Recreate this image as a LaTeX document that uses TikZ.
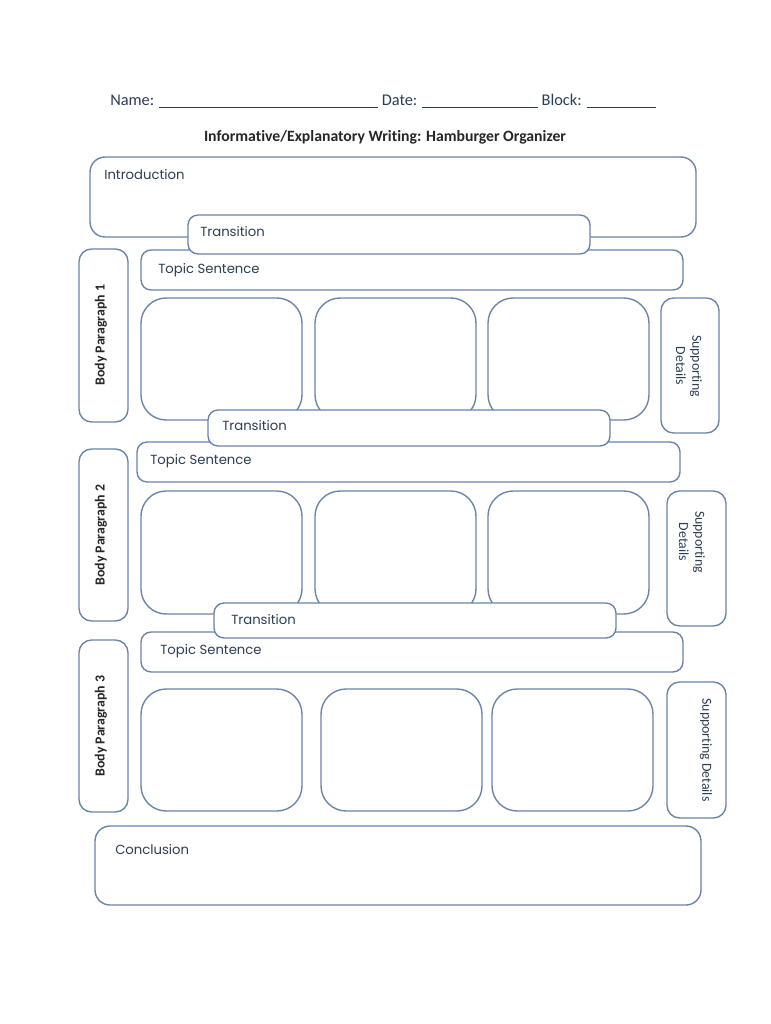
\documentclass[tikz,border=0pt]{standalone}
\usepackage{fontspec}
\setmainfont{Carlito}[Ligatures=NoCommon]
\newfontfamily\gothic{Poppins}
\definecolor{edge}{RGB}{105,132,168}
\definecolor{ink}{RGB}{43,62,85}
\newcommand{\blankline}[1]{\rule[-2pt]{#1}{0.6pt}}
\begin{document}
\begin{tikzpicture}[x=0.7948pt,y=-0.7948pt,
  box/.style={draw=edge,line width=1.1pt,fill=white,rounded corners=#1},
  box/.default=8pt,
  lbl/.style={anchor=west,inner sep=0pt,text=ink,font=\gothic\fontsize{10.5}{12}\selectfont},
  side/.style={inner sep=0pt,rotate=90,text=black!85,font=\bfseries\fontsize{11}{13}\selectfont},
  supp/.style={inner sep=0pt,rotate=-90,align=center,text=ink,font=\fontsize{11}{13}\selectfont}]
\useasboundingbox[fill=white] (0,0) rectangle (770,1024);
% header
\node[anchor=west,inner sep=0pt,text=ink,font=\fontsize{13}{15}\selectfont] (header) at (110,101)
  {Name: \blankline{174pt} Date: \blankline{92pt} Block: \blankline{55pt}};
\node[inner sep=0pt,text=black!85,font=\bfseries\fontsize{12.5}{14}\selectfont] (title) at (385,137)
  {Informative/Explanatory Writing: Hamburger Organizer};
% introduction
\draw[box=12pt] (90,157) rectangle (696,237);
\node[lbl] (intro) at (104,175) {Introduction};
% body paragraph 1
\draw[box] (141,250) rectangle (683,290);
\node[lbl] (topic1) at (158,270) {Topic Sentence};
\draw[box] (188,215) rectangle (590,254);
\node[lbl] (trans1) at (200,232) {Transition};
\draw[box=10pt] (79,249) rectangle (128,422);
\node[side] (body1) at (101,335) {Body Paragraph 1};
\foreach \x in {141,315,488}
  \draw[box=20pt] (\x,298) rectangle ++(161,122);
\draw[box=10pt] (661,298) rectangle (719,433);
\node[supp] (supp1) at (689,366) {Supporting\\Details};
% body paragraph 2
\draw[box] (137,442) rectangle (680,482);
\node[lbl] (topic2) at (150,461) {Topic Sentence};
\draw[box] (208,410) rectangle (610,446);
\node[lbl] (trans2) at (222,426) {Transition};
\draw[box=10pt] (79,449) rectangle (128,621);
\node[side] (body2) at (101,535) {Body Paragraph 2};
\foreach \x in {141,315,488}
  \draw[box=20pt] (\x,491) rectangle ++(161,123);
\draw[box=10pt] (667,491) rectangle (726,626);
\node[supp] (supp2) at (692,542) {Supporting\\Details};
% body paragraph 3
\draw[box] (141,632) rectangle (683,672);
\node[lbl] (topic3) at (160,651) {Topic Sentence};
\draw[box] (214,603) rectangle (616,638);
\node[lbl] (trans3) at (231,620) {Transition};
\draw[box=10pt] (79,640) rectangle (128,812);
\node[side] (body3) at (101,726) {Body Paragraph 3};
\foreach \x in {141,321,492}
  \draw[box=20pt] (\x,689) rectangle ++(161,122);
\draw[box=10pt] (667,682) rectangle (726,818);
\node[supp] (supp3) at (706,750) {Supporting Details};
% conclusion
\draw[box=12pt] (95,826) rectangle (701,905);
\node[lbl] (concl) at (115,850) {Conclusion};
\end{tikzpicture}
\end{document}
